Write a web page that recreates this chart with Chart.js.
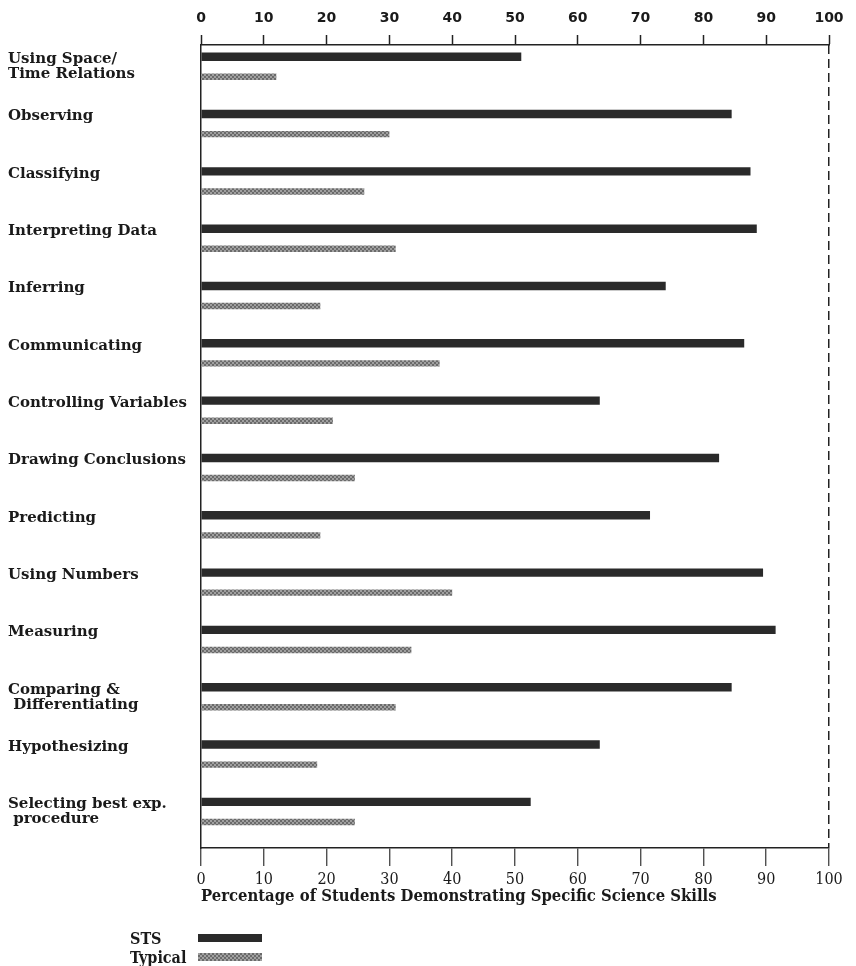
<!DOCTYPE html>
<html>
<head>
<meta charset="utf-8">
<script src="https://cdn.jsdelivr.net/npm/chart.js@4/dist/chart.umd.min.js"></script>
<style>
  html, body { margin: 0; padding: 0; background: #fff; }
  #wrap { position: relative; width: 856px; height: 966px; }
  #legend { position: absolute; left: 130px; top: 929px; font: bold 16px "DejaVu Serif Condensed", "DejaVu Serif", serif; color: #1a1a1a; }
  #legend div { height: 19px; line-height: 19px; position: relative; }
  #legend span.sw { position: absolute; left: 68px; top: 5px; width: 64px; height: 8px; }
</style>
</head>
<body>
<div id="wrap">
  <canvas id="myChart" width="856" height="966"></canvas>
  <div id="legend"></div>
</div>
<script>
// skills, top to bottom
var skills = [
    ["Using Space/", "Time Relations"],
    ["Observing", ""],
    ["Classifying", ""],
    ["Interpreting Data", ""],
    ["Inferring", ""],
    ["Communicating", ""],
    ["Controlling Variables", ""],
    ["Drawing Conclusions", ""],
    ["Predicting", ""],
    ["Using Numbers", ""],
    ["Measuring", ""],
    ["Comparing &", " Differentiating"],
    ["Hypothesizing", ""],
    ["Selecting best exp.", " procedure"]
];
var sts_values = [51, 84.5, 87.5, 88.5, 74, 86.5, 63.5, 82.5, 71.5, 89.5, 91.5, 84.5, 63.5, 52.5];
var typical_values = [12, 30, 26, 31, 19, 38, 21, 24.5, 19, 40, 33.5, 31, 18.5, 24.5];
var x_ticks = [0, 10, 20, 30, 40, 50, 60, 70, 80, 90, 100];

var stsColor = '#2a2a2a';

// speckled grey for the "Typical" bars
function makePattern() {
    var c = document.createElement('canvas');
    c.width = 4; c.height = 4;
    var g = c.getContext('2d');
    g.fillStyle = '#a0a0a0';
    g.fillRect(0, 0, 4, 4);
    g.fillStyle = '#6a6a6a';
    g.fillRect(0, 0, 2, 2);
    g.fillRect(2, 2, 2, 2);
    return g.createPattern(c, 'repeat');
}
var typicalFill = makePattern();

function toPoints(vals) {
    var pts = [];
    for (var i = 0; i < vals.length; i++) pts.push({x: vals[i], y: i});
    return pts;
}

var serif = '"DejaVu Serif", serif';
var serifC = '"DejaVu Serif Condensed", "DejaVu Serif", serif';

var ctx = document.getElementById("myChart").getContext('2d');
var myChart = new Chart(ctx, {
    type: 'bar',
    data: {
        datasets: [
            {
                label: 'STS',
                data: toPoints(sts_values),
                backgroundColor: stsColor,
                borderWidth: 0,
                categoryPercentage: 0.7,
                barPercentage: 0.42,
                xAxisID: 'x',
                yAxisID: 'y'
            },
            {
                label: 'Typical',
                data: toPoints(typical_values),
                backgroundColor: typicalFill,
                borderWidth: 0,
                categoryPercentage: 0.7,
                barPercentage: 0.32,
                xAxisID: 'x',
                yAxisID: 'y'
            }
        ]
    },
    options: {
        indexAxis: 'y',
        responsive: false,
        animation: false,
        maintainAspectRatio: false,
        layout: { padding: { left: 8, right: 27, top: 0, bottom: 56 } },
        plugins: {
            legend: { display: false },
            tooltip: { enabled: false }
        },
        scales: {
            x: {
                type: 'linear',
                position: 'top',
                min: 0, max: 100,
                afterBuildTicks: function(s) { s.ticks = x_ticks.map(function(v) { return {value: v}; }); },
                afterFit: function(s) { s.height = 45; },
                grid: { drawOnChartArea: false, drawTicks: true, tickLength: 10, tickColor: '#222', tickWidth: 1.5 },
                border: { display: true, color: '#222', width: 1.5 },
                ticks: { color: '#1a1a1a', padding: 8, maxRotation: 0,
                         font: { family: '"DejaVu Sans", sans-serif', weight: 'bold', size: 14 } }
            },
            x2: {
                type: 'linear',
                position: 'bottom',
                min: 0, max: 100,
                afterBuildTicks: function(s) { s.ticks = x_ticks.map(function(v) { return {value: v}; }); },
                afterFit: function(s) { s.height = 62; },
                grid: {
                    drawOnChartArea: true, drawTicks: true, tickLength: 18,
                    color: function(c) { return c.tick && c.tick.value === 100 ? '#222' : 'rgba(0,0,0,0)'; },
                    lineWidth: 1.5, tickColor: '#333', tickWidth: 1.2
                },
                border: { display: true, color: '#222', width: 1.5, dash: [9, 5] },
                ticks: { color: '#1a1a1a', padding: 4, maxRotation: 0,
                         font: { family: serifC, size: 16 } },
                title: {
                    display: true, align: 'start',
                    text: 'Percentage of Students Demonstrating Specific Science Skills',
                    color: '#1a1a1a', padding: { top: 0, bottom: 3 },
                    font: { family: serifC, weight: 'bold', size: 16.5 }
                }
            },
            y: {
                type: 'linear',
                reverse: true,
                offset: false,
                min: -0.38, max: 13.63,
                afterBuildTicks: function(s) { s.ticks = skills.map(function(_, i) { return {value: i}; }); },
                afterFit: function(s) { s.width = 193; },
                grid: { display: false, offset: false },
                border: { display: true, color: '#222', width: 1.5 },
                ticks: {
                    crossAlign: 'far',
                    padding: 4,
                    color: '#1a1a1a',
                    font: { family: serif, weight: 'bold', size: 15, lineHeight: 1.0 },
                    callback: function(v) { return skills[v]; }
                }
            }
        }
    }
});

// legend: text first, then the swatch
var leg = document.getElementById('legend');
myChart.data.datasets.forEach(function(ds, i) {
    var row = document.createElement('div');
    row.textContent = ds.label;
    var sw = document.createElement('span');
    sw.className = 'sw';
    sw.style.background = i === 0 ? stsColor :
        'repeating-conic-gradient(#6a6a6a 0 25%, #a0a0a0 0 50%) 0 0 / 4px 4px';
    row.appendChild(sw);
    leg.appendChild(row);
});
</script>
</body>
</html>
